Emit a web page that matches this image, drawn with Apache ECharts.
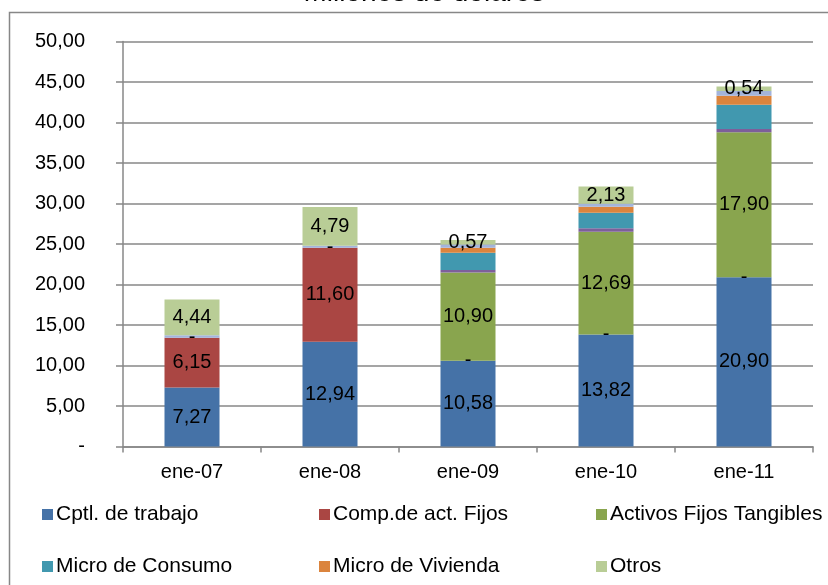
<!DOCTYPE html>
<html>
<head>
<meta charset="utf-8">
<script src="https://cdn.jsdelivr.net/npm/echarts@6/dist/echarts.min.js"></script>
<style>
  html, body { margin: 0; padding: 0; background: #fff; }
  #chart { width: 828px; height: 585px; }
</style>
</head>
<body>
<div id="chart"></div>
<script>
// Periods (January of each year)
const categories = ['ene-07', 'ene-08', 'ene-09', 'ene-10', 'ene-11'];

// Stacked portfolio components, millions of dollars
const cptlTrabajo = [7.27, 12.94, 10.58, 13.82, 20.90];
const compActFijos = [6.15, 11.60, 0, 0, 0];
const activosFijosTangibles = [0, 0, 10.90, 12.69, 17.90];
const serie4 = [0, 0, 0.30, 0.42, 0.40];
const microConsumo = [0, 0, 2.15, 1.93, 3.00];
const microVivienda = [0, 0, 0.60, 0.74, 1.10];
const serie7 = [0.30, 0.25, 0.40, 0.37, 0.60];
const otros = [4.44, 4.79, 0.57, 2.13, 0.54];

// Value axis ticks
const yMin = 0, yMax = 50, yStep = 5;

const FONT = '"Liberation Sans", Arial, sans-serif';
const GRID_COLOR = '#878787';

function fmt(v) {
  return v === 0 ? '-' : v.toFixed(2).replace('.', ',');
}

const valueLabel = {
  show: true,
  position: 'inside',
  color: '#000',
  fontFamily: FONT,
  fontSize: 20,
  formatter: p => fmt(p.value)
};

function barSeries(name, data, color, labelled) {
  return {
    name: name,
    type: 'bar',
    stack: 'total',
    barWidth: 55,
    data: data,
    itemStyle: { color: color },
    label: labelled ? valueLabel : { show: false },
    emphasis: { disabled: true }
  };
}

function legendColumn(left, names) {
  return {
    orient: 'vertical',
    left: left,
    top: 499,
    itemWidth: 11,
    itemHeight: 11,
    itemGap: 31,
    icon: 'rect',
    selectedMode: false,
    textStyle: { fontFamily: FONT, fontSize: 21, color: '#000', lineHeight: 21, padding: [0, 0, 0, -2] },
    data: names
  };
}

const chart = echarts.init(document.getElementById('chart'), null, { renderer: 'canvas' });

chart.setOption({
  animation: false,
  backgroundColor: '#fff',
  graphic: [
    {
      type: 'rect',
      shape: { x: 9.5, y: 12.5, width: 900, height: 700 },
      style: { fill: 'none', stroke: GRID_COLOR, lineWidth: 1.5 },
      silent: true
    },
    {
      type: 'text',
      x: 424,
      y: 7,
      style: {
        text: 'Millones de dólares',
        font: '28px ' + FONT,
        fill: '#000',
        textAlign: 'center',
        textVerticalAlign: 'bottom'
      },
      silent: true
    }
  ],
  legend: [
    legendColumn(37, ['Cptl. de trabajo', 'Micro de Consumo']),
    legendColumn(314, ['Comp.de act. Fijos', 'Micro de Vivienda']),
    legendColumn(591, ['Activos Fijos Tangibles', 'Otros'])
  ],
  grid: { left: 123, right: 15, top: 41.5, bottom: 138.5, containLabel: false },
  xAxis: {
    type: 'category',
    data: categories,
    axisLine: { lineStyle: { color: GRID_COLOR, width: 1.5 } },
    axisTick: { show: true, length: 6, interval: 0, lineStyle: { color: GRID_COLOR, width: 1.5 } },
    axisLabel: { color: '#000', fontFamily: FONT, fontSize: 20, margin: 16, interval: 0 },
    splitLine: { show: false }
  },
  yAxis: {
    type: 'value',
    min: yMin,
    max: yMax,
    interval: yStep,
    axisLine: { show: true, lineStyle: { color: GRID_COLOR, width: 1.5 } },
    axisTick: { show: true, length: 7, lineStyle: { color: GRID_COLOR, width: 1.5 } },
    axisLabel: { color: '#000', fontFamily: FONT, fontSize: 20, margin: 38, formatter: v => fmt(v) },
    splitLine: { show: true, lineStyle: { color: GRID_COLOR, width: 1.5 } }
  },
  series: [
    barSeries('Cptl. de trabajo', cptlTrabajo, '#4572A7', true),
    barSeries('Comp.de act. Fijos', compActFijos, '#AA4643', true),
    barSeries('Activos Fijos Tangibles', activosFijosTangibles, '#89A54E', true),
    barSeries('Serie 4', serie4, '#7D5F9A', false),
    barSeries('Micro de Consumo', microConsumo, '#4198AF', false),
    barSeries('Micro de Vivienda', microVivienda, '#DB843D', false),
    barSeries('Serie 7', serie7, '#A3B4DB', false),
    barSeries('Otros', otros, '#B9CD96', true)
  ]
});
</script>
</body>
</html>
